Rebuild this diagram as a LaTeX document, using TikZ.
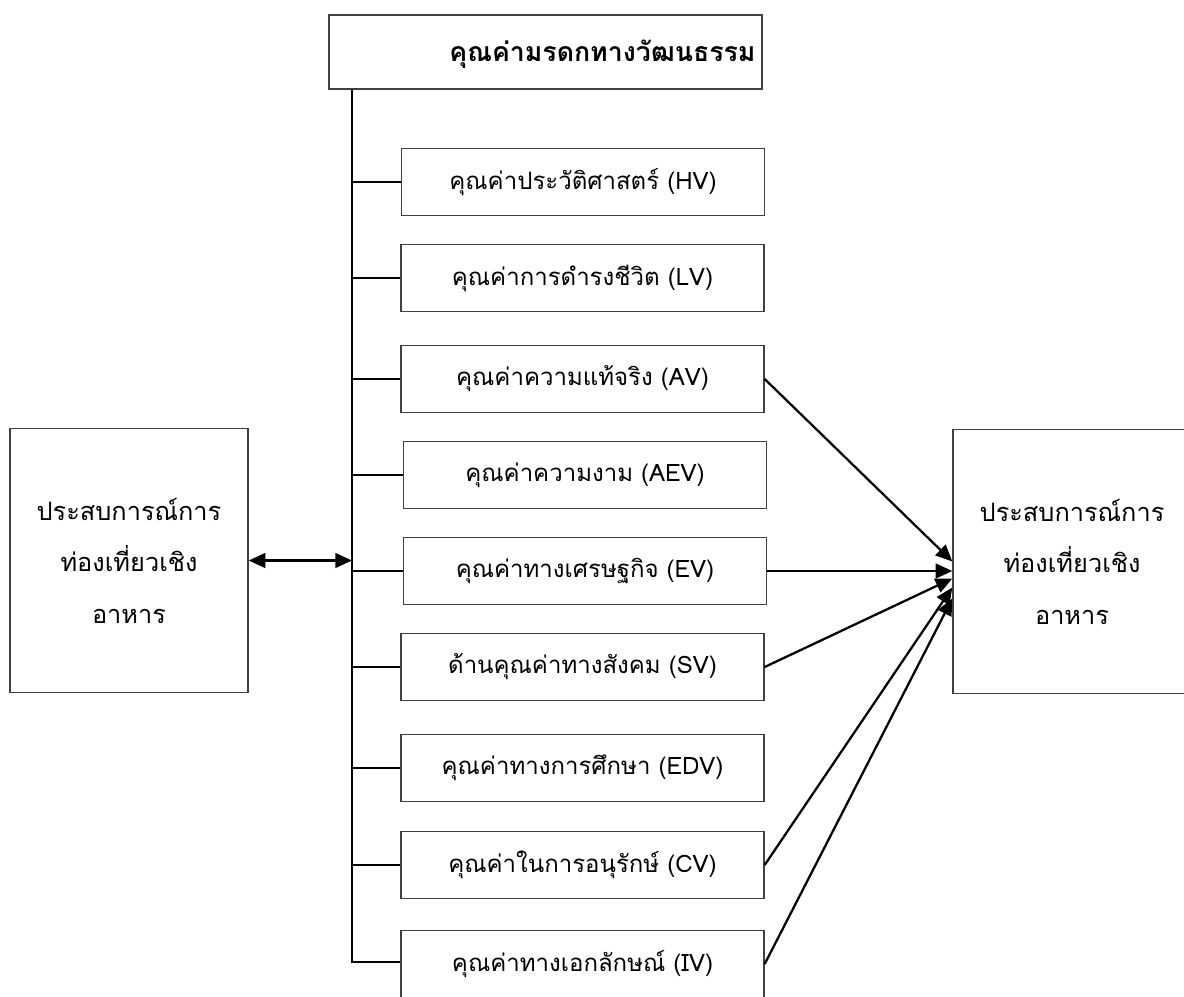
\documentclass[tikz,border=0pt]{standalone}
\usepackage{fontspec}
\setmainfont[Script=Thai]{Loma}
\usetikzlibrary{arrows.meta,calc}
\definecolor{boxgray}{HTML}{404040}
\begin{document}
\begin{tikzpicture}[x=0.75pt,y=-0.75pt,
  box/.style={draw=boxgray,line width=1pt,minimum width=272.25pt,minimum height=50.25pt,inner sep=0pt,font=\fontsize{18}{22}\selectfont},
  bigbox/.style={draw=boxgray,line width=1pt,minimum width=178.5pt,minimum height=198pt,inner sep=0pt,align=center,font=\fontsize{19}{38.6}\selectfont},
  conn/.style={line width=1.7pt},
  arr/.style={conn,-{Triangle[length=12.5pt,width=11pt]}},
  darr/.style={conn,{Triangle[length=12.5pt,width=11pt]}-{Triangle[length=12.5pt,width=11pt]}}]
\clip (0,0) rectangle (1184,996);
\fill[white] (0,0) rectangle (1184,996);
% top box
\node[draw=boxgray,line width=1pt,minimum width=324.75pt,minimum height=55.5pt,inner sep=0pt] (top) at (545.5,52) {};
\node[font=\fontsize{20}{24}\selectfont\bfseries] (toptext) at (602.5,54) {คุณค่ามรดกทางวัฒนธรรม};
% value boxes
\node[box] (HV) at (583,182) {คุณค่าประวัติศาสตร์ (HV)};
\node[box] (LV) at (582.5,278) {คุณค่าการดำรงชีวิต (LV)};
\node[box] (AV) at (582.5,379) {คุณค่าความแท้จริง (AV)};
\node[box] (AEV) at (585,475) {คุณค่าความงาม (AEV)};
\node[box] (EV) at (585,571) {คุณค่าทางเศรษฐกิจ (EV)};
\node[box] (SV) at (582.5,667) {ด้านคุณค่าทางสังคม (SV)};
\node[box] (EDV) at (582.5,768) {คุณค่าทางการศึกษา (EDV)};
\node[box] (CV) at (582.5,865) {คุณค่าในการอนุรักษ์ (CV)};
\node[box] (IV) at (582.5,964) {คุณค่าทางเอกลักษณ์ (IV)};
% side boxes
\node[bigbox] (L) at (129,560.5) {ประสบการณ์การ\\ท่องเที่ยวเชิง\\อาหาร};
\node[bigbox] (R) at (1072,561.5) {ประสบการณ์การ\\ท่องเที่ยวเชิง\\อาหาร};
% spine
\coordinate (sT) at (top.south -| 352,0);
\coordinate (sB) at (352,962);
\draw[conn] (sT) -- (sB) -- (sB -| IV.west);
\foreach \b in {HV,LV,AV,AEV,EV,SV,EDV,CV}{
  \draw[conn] (sT |- \b.west) -- (\b.west);
}
% double arrow
\draw[darr] (L.east) -- (L.east -| sT);
% arrows to right box
\coordinate (tAV) at (R.west);
\coordinate (tSV) at ($(R.west)+(0,17)$);
\coordinate (tCV) at ($(R.west)+(0,26)$);
\coordinate (tIV) at ($(R.west)+(0,37)$);
\draw[arr] (AV.east) -- (tAV);
\draw[arr] (EV.east) -- (EV.east -| R.west);
\draw[arr] (SV.east) -- (tSV);
\draw[arr] (CV.east) -- (tCV);
\draw[arr] (IV.east) -- (tIV);
\end{tikzpicture}
\end{document}
